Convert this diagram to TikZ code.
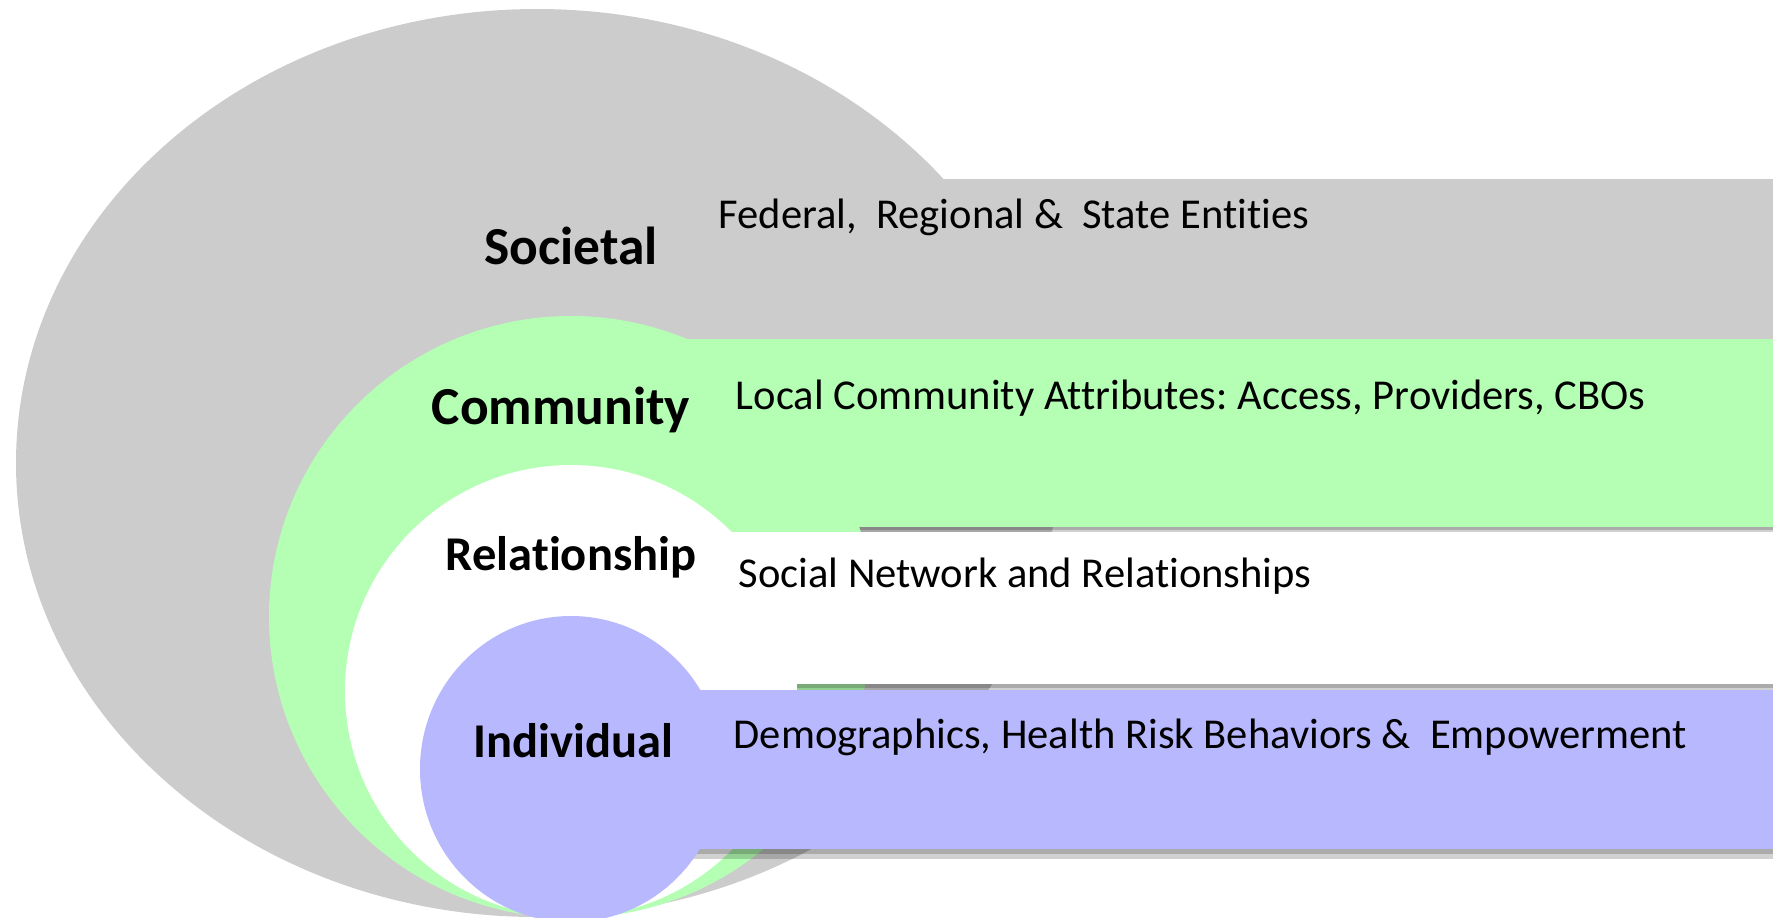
\documentclass[tikz,border=0pt]{standalone}
\usepackage{fontspec}
\setmainfont{Carlito}[Ligatures=NoCommon]
\definecolor{societal}{RGB}{204,204,204}
\definecolor{community}{RGB}{180,255,180}
\definecolor{individual}{RGB}{184,184,255}
\frenchspacing

\begin{document}
\begin{tikzpicture}[x=0.01cm, y=-0.01cm,
    layername/.style={font=\bfseries\fontsize{15.2}{18}\selectfont, anchor=base, inner sep=0pt},
    info/.style={font=\fontsize{12.1}{14}\selectfont, anchor=base west, inner sep=0pt},
    bandshadow/.style={fill=black, opacity=.18}]

    \useasboundingbox (0,0) rectangle (1773,917);

    % societal
    \fill[societal] (537,179) rectangle (1773,339);
    \fill[societal] (537,463) ellipse [x radius=521, y radius=454];

    % community
    \fill[bandshadow] (571,527) rectangle (1773,533);
    \fill[bandshadow] (571,527) rectangle (1773,530);
    \fill[community] (571,339) rectangle (1773,527);
    \fill[community] (571,617) ellipse [x radius=302, y radius=301];

    % relationship
    \fill[bandshadow] (571,684) rectangle (1773,691);
    \fill[bandshadow] (571,684) rectangle (1773,688);
    \fill[white] (571,532) rectangle (1773,684);
    \fill[white] (571,691) ellipse [x radius=226, y radius=226];

    % individual
    \fill[bandshadow] (571,849) rectangle (1773,859);
    \fill[bandshadow] (571,849) rectangle (1773,854);
    \fill[individual] (571,690) rectangle (1773,849);
    \fill[individual] (571,769) ellipse [x radius=151, y radius=153];

    \node[layername] (societal) at (571,264) {Societal};
    \node[info] (federal) at (718,228) {Federal,~ Regional \&~ State Entities};

    \node[layername] (community) at (561,424) {Community};
    \node[info] (local) at (735,409) {Local Community Attributes: Access, Providers, CBOs};

    \node[layername, font=\bfseries\fontsize{13.8}{17}\selectfont] (relationship) at (571,570) {Relationship};
    \node[info] (social) at (738,587) {Social Network and Relationships};

    \node[layername, font=\bfseries\fontsize{13.8}{17}\selectfont] (individual) at (573,757) {Individual};
    \node[info] (demo) at (733,748) {Demographics, Health Risk Behaviors \&~ Empowerment};

\end{tikzpicture}
\end{document}
